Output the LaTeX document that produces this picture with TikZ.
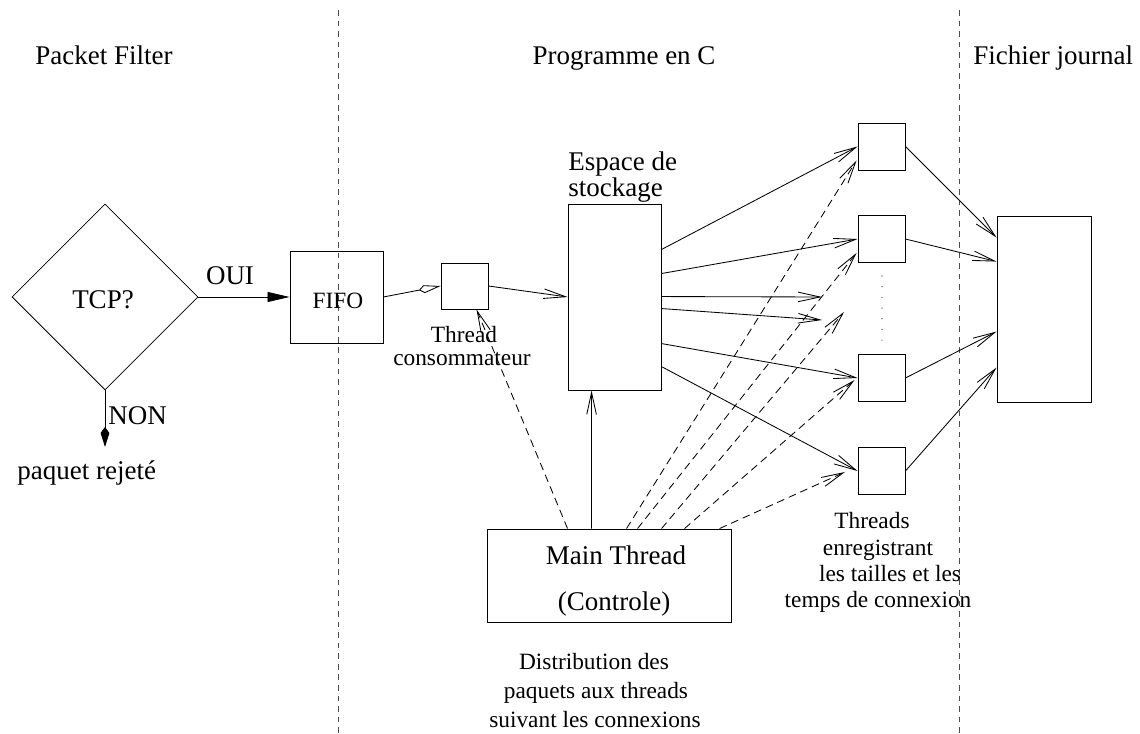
\documentclass[tikz,border=0pt]{standalone}
\usepackage{fontspec}
\setmainfont{Liberation Serif}
\usetikzlibrary{arrows.meta,shapes.geometric,calc}
\begin{document}
\begin{tikzpicture}[x=0.025cm,y=-0.025cm,
  line width=0.6pt,
  big/.style={font=\fontsize{19.2}{16.2}\selectfont, inner sep=0pt},
  small/.style={font=\fontsize{16.6}{18.5}\selectfont, inner sep=0pt},
  box/.style={draw, rectangle, inner sep=0pt},
  tbox/.style={box, minimum width=1.175cm, minimum height=1.175cm},
  barb/.style={-{Straight Barb[length=0.55cm,width=0.24cm]}},
  sep/.style={draw=black!70, dash pattern=on 4pt off 3.5pt},
  dsh/.style={dash pattern=on 5.5pt off 3.5pt},
]
\useasboundingbox (0,0) rectangle (1140,734);

% separators
\coordinate (s1t) at (338,10); \coordinate (s1b) at (338,734);
\coordinate (s2t) at (959,10); \coordinate (s2b) at (959,734);
\draw[sep] (s1t) -- (s1b);
\draw[sep] (s2t) -- (s2b);

% headings
\node[big, anchor=base] (hpf) at (104,65) {Packet Filter};
\node[big, anchor=base] (hpc) at (624,65) {Programme en C};
\node[big, anchor=base west] (hfj) at (973,65) {Fichier journal};

% packet filter
\node[draw, diamond, minimum width=4.65cm, minimum height=4.65cm, inner sep=0pt] (tcp) at (105,297) {};
\node[big, anchor=base] (tcpl) at (103,309) {TCP?};
\node[box, minimum width=2.325cm, minimum height=2.3cm] (fifo) at (336.5,297) {};
\node[small, anchor=base] (fifol) at (338,309) {FIFO};
\draw[-{Triangle[length=0.55cm,width=0.25cm]}] (tcp.east) -- (fifo.west);
\node[big, anchor=base] (oui) at (230,285) {OUI};
\coordinate (rej) at (105,447);
\draw[-{Kite[length=0.5cm,width=0.22cm,inset=0.15cm]}] (tcp.south) -- (rej);
\node[big, anchor=base west] (non) at (108,425) {NON};
\node[big, anchor=base west] (pr) at (17,480) {paquet rejeté};

% consumer thread
\node[box, minimum width=1.175cm, minimum height=1.15cm] (cons) at (464.5,286) {};
\draw[-{Kite[open,length=0.55cm,width=0.2cm,inset=0.13cm]}] (fifo.east) -- (cons.west);
\node[small, anchor=base] (cl1) at (464,343) {Thread};
\node[small, anchor=base] (cl2) at (462,366) {consommateur};

% storage
\node[box, minimum width=2.325cm, minimum height=4.65cm] (sto) at (614.5,297) {};
\node[big, align=left, anchor=north west] (stl) at (568,151) {Espace de\\stockage};
\draw[barb] (cons.east) -- (sto.west);

% thread boxes
\node[tbox] (b1) at (881.5,146.5) {};
\node[tbox] (b2) at (881.5,239) {};
\node[tbox] (b3) at (881.5,378) {};
\node[tbox] (b4) at (881.5,471) {};
\coordinate (dt) at (882,276); \coordinate (db) at (882,342);
\draw[line width=0.8pt, line cap=round, dash pattern=on 0pt off 7.6pt] (dt) -- (db);

% journal
\node[box, minimum width=2.35cm, minimum height=4.65cm] (jr) at (1044,309) {};

% storage -> threads
\coordinate (f1) at (822,297);
\coordinate (f2) at (822,320);
\draw[barb] ($(sto.north east)+(0,46)$) -- (b1.west);
\draw[barb] ($(sto.north east)+(0,70)$) -- (b2.west);
\draw[barb] ($(sto.north east)+(0,93)$) -- (f1);
\draw[barb] ($(sto.north east)+(0,105)$) -- (f2);
\draw[barb] ($(sto.north east)+(0,140)$) -- (b3.west);
\draw[barb] ($(sto.north east)+(0,163)$) -- (b4.west);

% threads -> journal
\draw[barb] (b1.east) -- ($(jr.north west)+(0,22)$);
\draw[barb] (b2.east) -- ($(jr.north west)+(0,46)$);
\draw[barb] (b3.east) -- ($(jr.north west)+(0,116)$);
\draw[barb] (b4.east) -- ($(jr.north west)+(0,152)$);

% main thread
\node[box, minimum width=6.1cm, minimum height=2.325cm] (main) at (609,575.5) {};
\node[big, anchor=base] (mt1) at (616,565) {Main Thread};
\node[big, anchor=base] (mt2) at (614,611) {(Controle)};
\draw[barb] ($(main.north west)+(105,0)$) -- ($(sto.south west)+(24,0)$);
\draw[barb, dsh] ($(main.north west)+(81,0)$) -- ($(cons.south)+(12,0)$);
\coordinate (f3) at (844,312);
\coordinate (f4) at (845,472);
\draw[barb, dsh] ($(main.north west)+(140,0)$) -- ($(b1.south west)+(-1,-10)$);
\draw[barb, dsh] ($(main.north west)+(151,0)$) -- ($(b2.south west)+(-1,-10)$);
\draw[barb, dsh] ($(main.north west)+(175,0)$) -- (f3);
\draw[barb, dsh] ($(main.north west)+(198,0)$) -- ($(b3.west)+(-3,2)$);
\draw[barb, dsh] ($(main.north west)+(233,0)$) -- (f4);

% captions
\node[small, anchor=base] (th1) at (872,529) {Threads};
\node[small, anchor=base] (th2) at (878,556) {enregistrant};
\node[small, anchor=base] (th3) at (890,582) {les tailles et les};
\node[small, anchor=base] (th4) at (878,608) {temps de connexion};
\node[small, anchor=base] (ds1) at (594,670) {Distribution des};
\node[small, anchor=base] (ds2) at (596,699) {paquets aux threads};
\node[small, anchor=base] (ds3) at (595,727) {suivant les connexions};
\end{tikzpicture}
\end{document}
